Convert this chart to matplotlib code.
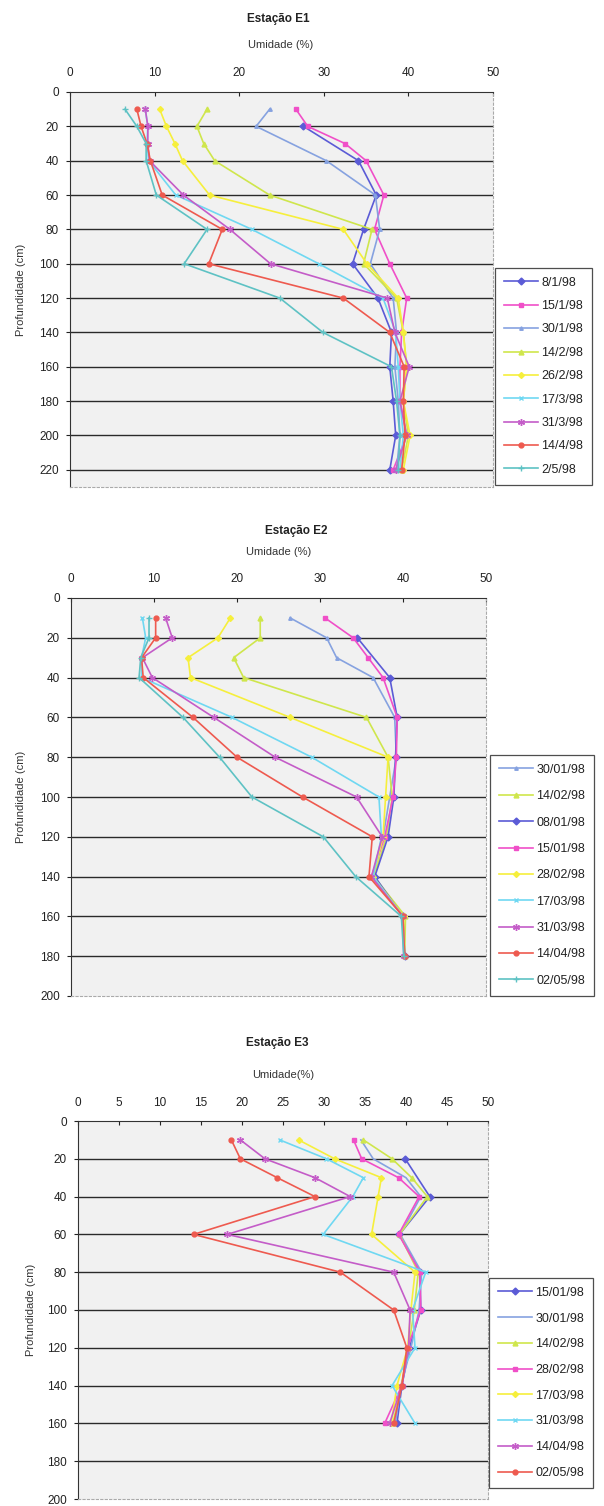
import numpy as np
import matplotlib
matplotlib.use("Agg")
import matplotlib.pyplot as plt

plt.rcParams['font.family'] = ['Liberation Sans', 'DejaVu Sans']

# ---------------- data ----------------
e1_depth = [10, 20, 30, 40, 60, 80, 100, 120, 140, 160, 180, 200, 220]
e1_labels = ['8/1/98', '15/1/98', '30/1/98', '14/2/98', '26/2/98',
             '17/3/98', '31/3/98', '14/4/98', '2/5/98']
e1_0801 = [None, 27.6, None, 34.1, 36.2, 34.7, 33.4, 36.4, 38.0, 37.8, 38.2, 38.5, 37.8]
e1_1501 = [26.7, 28.1, 32.5, 35.0, 37.1, 36.0, 37.8, 39.8, 39.2, 39.0, 39.0, 39.8, 38.2]
e1_3001 = [23.6, 22.0, None, 30.3, 36.1, 36.6, 35.5, 38.2, 38.6, 38.4, 38.8, 39.0, 38.6]
e1_1402 = [16.2, 15.0, 15.8, 17.1, 23.6, 35.7, 34.7, 38.6, 39.4, 39.8, 39.4, 40.0, 39.2]
e1_2602 = [10.6, 11.4, 12.4, 13.3, 16.5, 32.3, 35.1, 38.8, 39.4, 39.8, 39.4, 40.2, 39.4]
e1_1703 = [8.9, 9.2, 9.1, 9.3, 12.5, 21.5, 29.4, 37.0, 38.5, 38.8, 39.0, 39.4, 39.0]
e1_3103 = [8.9, 9.2, 9.2, 9.4, 13.4, 18.9, 23.7, 37.5, 38.4, 40.1, 39.0, 39.8, 38.5]
e1_1404 = [7.9, 8.4, 9.1, 9.5, 10.9, 18.0, 16.4, 32.3, 37.8, 39.5, 39.4, 39.6, 39.2]
e1_0205 = [6.5, 7.9, 9.0, 9.0, 10.2, 16.2, 13.5, 24.8, 29.9, 38.0, 38.6, 39.0, 38.8]
e1_ticks = [0, 20, 40, 60, 80, 100, 120, 140, 160, 180, 200, 220]

e2_depth = [10, 20, 30, 40, 60, 80, 100, 120, 140, 160, 180]
e2_labels = ['30/01/98', '14/02/98', '08/01/98', '15/01/98', '28/02/98',
             '17/03/98', '31/03/98', '14/04/98', '02/05/98']
e2_3001 = [26.4, 30.8, 32.0, 36.4, 39.0, 39.2, 38.4, 37.6, 36.4, 40.0, 40.2]
e2_1402 = [22.8, 22.8, 19.6, 20.8, 35.6, 38.2, 38.7, 38.0, 36.5, 40.3, 40.2]
e2_0801 = [None, 34.5, None, 38.4, 39.3, 39.1, 38.9, 38.2, 36.6, 40.0, 40.2]
e2_1501 = [30.6, 34.0, 35.8, 37.6, 39.3, 39.2, 38.8, 37.8, 36.2, 40.0, 40.1]
e2_2802 = [19.2, 17.7, 14.1, 14.4, 26.4, 38.2, 37.9, 37.6, 36.4, 40.1, 40.1]
e2_1703 = [8.6, 9.0, 8.5, 8.5, 19.4, 29.0, 37.1, 37.4, 36.4, 40.0, 40.1]
e2_3103 = [11.4, 12.2, 8.6, 9.8, 17.2, 24.6, 34.4, 37.5, 36.2, 40.0, 40.1]
e2_1404 = [10.2, 10.2, 8.5, 8.7, 14.7, 20.0, 27.9, 36.3, 35.9, 40.0, 40.2]
e2_0205 = [9.4, 9.4, 8.4, 8.2, 13.5, 17.9, 21.8, 30.4, 34.3, 39.8, 40.1]
e2_ticks = [0, 20, 40, 60, 80, 100, 120, 140, 160, 180, 200]

e3_depth = [10, 20, 30, 40, 60, 80, 100, 120, 140, 160]
e3_labels = ['15/01/98', '30/01/98', '14/02/98', '28/02/98', '17/03/98',
             '31/03/98', '14/04/98', '02/05/98']
e3_1501 = [None, 39.9, None, 42.9, 39.2, 41.7, 41.8, 40.4, 39.5, 38.9]
e3_3001 = [34.5, 36.0, 40.0, 41.8, 39.3, 41.9, 41.6, 40.6, 39.4, 38.7]
e3_1402 = [34.8, 38.3, 40.7, 42.6, 39.2, 41.5, 41.0, 40.3, 39.4, 38.4]
e3_2802 = [33.6, 34.6, 39.1, 41.6, 39.1, 41.7, 41.8, 40.2, 39.5, 37.4]
e3_1703 = [26.9, 31.3, 37.0, 36.6, 35.8, 41.1, 40.6, 40.2, 38.9, 38.2]
e3_3103 = [24.6, 30.3, 34.8, 33.5, 29.9, 42.4, 40.8, 41.1, 38.3, 41.1]
e3_1404 = [19.8, 22.8, 28.9, 33.2, 18.2, 38.5, 40.5, 40.3, 39.5, 38.0]
e3_0205 = [18.7, 19.8, 24.3, 28.9, 14.1, 32.0, 38.5, 40.1, 39.5, 38.5]
e3_ticks = [0, 20, 40, 60, 80, 100, 120, 140, 160, 180, 200]

# ---------------- styles ----------------
BLUE = '#5b5bd6'; MAG = '#f04fc8'; STEEL = '#86a2e0'; YG = '#cfe64c'
YEL = '#f6ef3c'; CYAN = '#6fd8f2'; PURP = '#c45cc8'; RED = '#ee5a4f'; TEAL = '#5ec2c4'
AST = (6, 2, 0)

W, H = 604, 1506
fig = plt.figure(figsize=(W / 100, H / 100), dpi=100)
fig.patch.set_facecolor('white')


def px_axes(l, t, r, b):
    return fig.add_axes([l / W, 1 - b / H, (r - l) / W, (b - t) / H])


def style_axes(ax, xt, yt, ymax):
    ax.set_facecolor('#f1f1f1')
    ax.set_xlim(0, 50)
    ax.set_ylim(ymax, 0)
    ax.xaxis.tick_top()
    ax.set_xticks(xt)
    ax.set_yticks(yt)
    ax.tick_params(axis='x', direction='in', length=3, pad=9, labelsize=8.5,
                   colors='#222222')
    ax.tick_params(axis='y', direction='out', length=3, pad=5, labelsize=8.5,
                   colors='#222222')
    for yv in yt[1:]:
        if yv < ymax:
            ax.axhline(yv, color='#2a2a2a', lw=1.0, zorder=1)
    ax.spines['top'].set_color('#333333')
    ax.spines['left'].set_color('#333333')
    for s in ('right', 'bottom'):
        ax.spines[s].set_color('#aaaaaa')
        ax.spines[s].set_linestyle((0, (2, 2)))
        ax.spines[s].set_linewidth(0.8)


def draw(ax, depth, values, color, marker, ms, label):
    v = np.array(values, dtype=float)
    d = np.array(depth, dtype=float)
    m = ~np.isnan(v)
    ax.plot(v[m], d[m], color=color, lw=1.2, marker=marker, ms=ms,
            mfc=color, mec=color, mew=1.0, label=label, zorder=3)


def legend(ax, x, y, spacing):
    lg = ax.legend(loc='upper left', bbox_to_anchor=(x / W, 1 - y / H),
                   bbox_transform=fig.transFigure, fontsize=9,
                   labelspacing=spacing, handlelength=2.7, handletextpad=0.3,
                   borderpad=0.7, borderaxespad=0, fancybox=False, frameon=True)
    lg.get_frame().set_edgecolor('#222222')
    lg.get_frame().set_linewidth(0.9)
    for t in lg.get_texts():
        t.set_color('#222222')


# ---------------- E1 ----------------
ax1 = px_axes(70, 92, 493, 487)
style_axes(ax1, [0, 10, 20, 30, 40, 50], e1_ticks, 230)
e1_series = [e1_0801, e1_1501, e1_3001, e1_1402, e1_2602, e1_1703, e1_3103, e1_1404, e1_0205]
e1_styles = [(BLUE, 'D', 3.5), (MAG, 's', 3.5), (STEEL, '^', 2.5), (YG, '^', 3.5),
             (YEL, 'D', 3.0), (CYAN, 'x', 3.5), (PURP, AST, 5), (RED, 'o', 3.5),
             (TEAL, '+', 4)]
for vals, (c, mk, ms), lab in zip(e1_series, e1_styles, e1_labels):
    draw(ax1, e1_depth, vals, c, mk, ms, lab)
legend(ax1, 495, 268, 0.91)
fig.text(278 / W, 1 - 19 / H, 'Estação E1', ha='center', va='center',
         fontsize=8.5, fontweight='bold', color='#222222')
fig.text(281 / W, 1 - 45 / H, 'Umidade (%)', ha='center', va='center',
         fontsize=8, color='#333333')
fig.text(21 / W, 1 - 290 / H, 'Profundidade (cm)', ha='center', va='center',
         rotation=90, fontsize=8, color='#333333')

# ---------------- E2 ----------------
ax2 = px_axes(71, 598, 486, 996)
style_axes(ax2, [0, 10, 20, 30, 40, 50], e2_ticks, 200)
e2_series = [e2_3001, e2_1402, e2_0801, e2_1501, e2_2802, e2_1703, e2_3103, e2_1404, e2_0205]
e2_styles = [(STEEL, '^', 2.5), (YG, '^', 3.5), (BLUE, 'D', 3.5), (MAG, 's', 3.5),
             (YEL, 'D', 3.0), (CYAN, 'x', 3.5), (PURP, AST, 5), (RED, 'o', 3.5),
             (TEAL, '+', 4)]
for vals, (c, mk, ms), lab in zip(e2_series, e2_styles, e2_labels):
    draw(ax2, e2_depth, vals, c, mk, ms, lab)
legend(ax2, 490, 755, 1.15)
fig.text(296 / W, 1 - 531 / H, 'Estação E2', ha='center', va='center',
         fontsize=8.5, fontweight='bold', color='#222222')
fig.text(279 / W, 1 - 552 / H, 'Umidade (%)', ha='center', va='center',
         fontsize=8, color='#333333')
fig.text(21 / W, 1 - 797 / H, 'Profundidade (cm)', ha='center', va='center',
         rotation=90, fontsize=8, color='#333333')

# ---------------- E3 ----------------
ax3 = px_axes(78, 1121, 488, 1499)
style_axes(ax3, list(range(0, 55, 5)), e3_ticks, 200)
e3_series = [e3_1501, e3_3001, e3_1402, e3_2802, e3_1703, e3_3103, e3_1404, e3_0205]
e3_styles = [(BLUE, 'D', 3.5), (STEEL, None, 0), (YG, '^', 3.5), (MAG, 's', 3.5),
             (YEL, 'D', 3.0), (CYAN, 'x', 3.5), (PURP, AST, 5), (RED, 'o', 3.5)]
for vals, (c, mk, ms), lab in zip(e3_series, e3_styles, e3_labels):
    draw(ax3, e3_depth, vals, c, mk, ms, lab)
legend(ax3, 489, 1278, 1.10)
fig.text(277 / W, 1 - 1043 / H, 'Estação E3', ha='center', va='center',
         fontsize=8.5, fontweight='bold', color='#222222')
fig.text(283 / W, 1 - 1075 / H, 'Umidade(%)', ha='center', va='center',
         fontsize=8, color='#333333')
fig.text(31 / W, 1 - 1310 / H, 'Profundidade (cm)', ha='center', va='center',
         rotation=90, fontsize=8, color='#333333')

fig.savefig('out.png', dpi=100, facecolor='white')
